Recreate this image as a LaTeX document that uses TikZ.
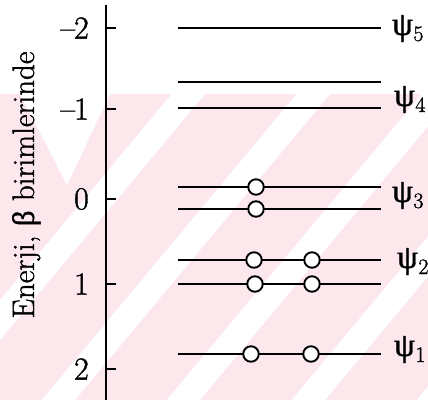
\documentclass[tikz,border=0pt]{standalone}
\usepackage{fontspec}
\setmainfont{Latin Modern Roman}[FakeBold=1.2]
\newfontfamily\grk{Liberation Serif}[FakeBold=1.2]
\definecolor{wmpink}{RGB}{252,232,236}
\newcommand\psilab[1]{{\grk\fontsize{33}{33}\selectfont ψ}\kern0.5pt\raisebox{-6pt}{\fontsize{22}{22}\selectfont #1}}
\tikzset{
  axisline/.style={line width=2.4pt},
  tickline/.style={line width=2.1pt},
  level/.style={line width=2pt},
  electron/.style={circle, draw, line width=1.9pt, fill=white, minimum size=15.5pt, inner sep=0pt},
  ticklab/.style={anchor=east, inner sep=0pt, font=\fontsize{32}{34}\selectfont},
  psilabel/.style={anchor=base west, inner sep=0pt},
}
\begin{document}
\begin{tikzpicture}[x=1pt,y=-1pt]
\useasboundingbox (0,0) rectangle (428,400);
% watermark background
\fill[wmpink] (0,94) rectangle (428,400);
\begin{scope}
  \clip (0,94) rectangle (428,400);
  \fill[white] (20,94) -- (110,94) -- (67,185) -- cycle;
  \foreach \c in {300,450,600,750,900}{
    \fill[white] ({(\c-94)/1.2},94) -- ({(\c+40-94)/1.2},94) -- ({(\c+40-400)/1.2},400) -- ({(\c-400)/1.2},400) -- cycle;
  }
\end{scope}
% axis
\coordinate (axtop) at (106,5);
\coordinate (axbot) at (106,400);
\draw[axisline] (axtop) -- (axbot);
\foreach \v/\y [count=\i] in {\textendash\kern-1pt 2/28, \textendash\kern-1pt 1/109, 0/199, 1/284, 2/369}{
  \coordinate (t\i) at (106,\y);
  \coordinate (te\i) at (116,\y);
  \draw[tickline] (t\i) -- (te\i);
  \node[ticklab] (tl\i) at (89,\y) {\v};
}
\node[rotate=90, anchor=base, inner sep=0pt, font=\fontsize{31}{33}\selectfont] (ylab) at (34,185) {Enerji, {\grk β} birimlerinde};
% levels
\foreach \n/\y in {L5/28, L4b/82, L4/108, L3a/187, L3b/209, L2a/260, L2b/284, L1/354}{
  \coordinate (\n l) at (178,\y);
  \coordinate (\n r) at (381,\y);
  \draw[level] (\n l) -- (\n r);
}
% electrons
\node[electron] (e3a) at (256,187) {};
\node[electron] (e3b) at (256,209) {};
\node[electron] (e2a1) at (254,260) {};
\node[electron] (e2a2) at (312,260) {};
\node[electron] (e2b1) at (255,284) {};
\node[electron] (e2b2) at (312,284) {};
\node[electron] (e11) at (251,354) {};
\node[electron] (e12) at (311,354) {};
% labels
\node[psilabel] (p5) at (392,35) {\psilab{5}};
\node[psilabel] (p4) at (394,106) {\psilab{4}};
\node[psilabel] (p3) at (392,202) {\psilab{3}};
\node[psilabel] (p2) at (397,268) {\psilab{2}};
\node[psilabel] (p1) at (394,356) {\psilab{1}};
\end{tikzpicture}
\end{document}
